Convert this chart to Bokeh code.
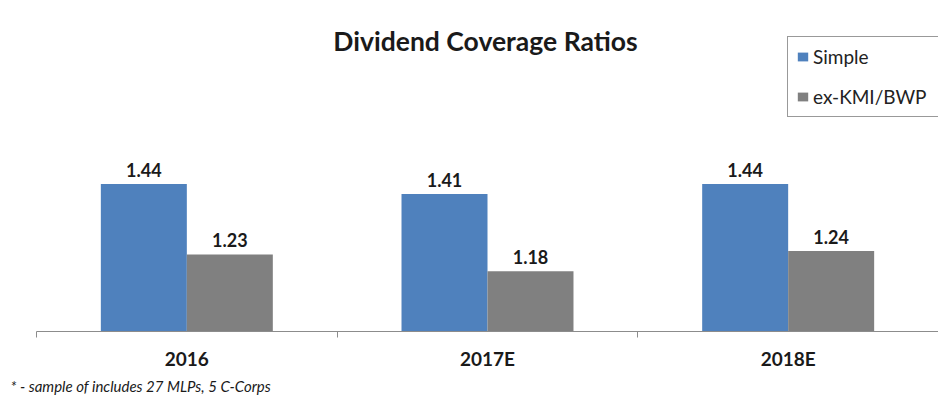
from bokeh.plotting import figure
from bokeh.models import (ColumnDataSource, FixedTicker, CustomJSTickFormatter,
                          Label, Range1d, Title)
from bokeh.core.properties import value
from bokeh.transform import dodge
from bokeh.embed import file_html
from bokeh.resources import INLINE

# ---- data ----
years = ["2016", "2017E", "2018E"]
simple = [1.44, 1.41, 1.44]
ex_kmi = [1.23, 1.18, 1.24]
series_names = ["Simple", "ex-KMI/BWP"]
title_text = "Dividend Coverage Ratios"
footnote = "* - sample of includes 27 MLPs, 5 C-Corps"

BLUE = "#4F81BD"
GRAY = "#808080"
FONT = "Lato"

src = ColumnDataSource(dict(
    x=[i + 0.5 for i in range(len(years))],
    simple=simple,
    ex=ex_kmi,
    simple_lbl=[f"{v:.2f}" for v in simple],
    ex_lbl=[f"{v:.2f}" for v in ex_kmi],
))

p = figure(width=938, height=398, output_backend="svg", toolbar_location=None,
           x_range=Range1d(0, 3), y_range=Range1d(1.0, 1.928),
           min_border_left=36, min_border_right=0, min_border_top=20,
           min_border_bottom=67)
p.outline_line_color = None
p.background_fill_color = "white"
p.border_fill_color = "white"
p.xgrid.visible = False
p.ygrid.visible = False
p.yaxis.visible = False

bw = 0.286
off = 0.143
p.vbar(x=dodge("x", -off, range=p.x_range), top="simple", bottom=1.0, width=bw,
       source=src, fill_color=BLUE, line_color=None, legend_label=series_names[0])
p.vbar(x=dodge("x", off, range=p.x_range), top="ex", bottom=1.0, width=bw,
       source=src, fill_color=GRAY, line_color=None, legend_label=series_names[1])

for col, lbl, d in (("simple", "simple_lbl", -off), ("ex", "ex_lbl", off)):
    p.text(x=dodge("x", d, range=p.x_range), y=col, text=lbl, source=src,
           text_align="center", text_baseline="alphabetic", y_offset=-14,
           text_font=value(FONT), text_font_style="bold", text_font_size="18px",
           text_color="#1a1a1a")

ax = p.xaxis[0]
ax.ticker = FixedTicker(ticks=[i + 0.5 for i in range(len(years))],
                        minor_ticks=list(range(len(years) + 1)))
ax.formatter = CustomJSTickFormatter(args=dict(labels=years),
                                     code="return labels[Math.floor(tick)] || '';")
ax.axis_line_color = "#8c8c8c"
ax.major_tick_line_color = None
ax.major_tick_out = 0
ax.major_tick_in = 0
ax.minor_tick_line_color = "#8c8c8c"
ax.minor_tick_out = 6
ax.minor_tick_in = 0
ax.major_label_text_font = FONT
ax.major_label_text_font_style = "bold"
ax.major_label_text_font_size = "19px"
ax.major_label_text_color = "#1a1a1a"
ax.major_label_standoff = 9

# title and footnote
p.add_layout(Label(x=449, y=291, x_units="screen", y_units="screen", text=title_text,
                   text_align="center", text_baseline="middle", text_font=FONT,
                   text_font_style="bold", text_font_size="26.5px", text_color="#1a1a1a"))
p.add_layout(Title(text=footnote, align="left", offset=-26, standoff=5,
                   text_font=FONT, text_font_style="italic", text_font_size="15px",
                   text_color="#1a1a1a"), "below")

lg = p.legend[0]
lg.location = (751, 214)
lg.orientation = "vertical"
lg.border_line_color = "#333333"
lg.border_line_width = 1
lg.background_fill_color = "white"
lg.background_fill_alpha = 1
lg.padding = 8
lg.margin = 0
lg.spacing = 17
lg.label_height = 20
lg.label_width = 170
lg.glyph_width = 13
lg.glyph_height = 11
lg.label_standoff = 4
lg.label_text_font = FONT
lg.label_text_font_size = "19px"
lg.label_text_color = "#222222"

open("out.html", "w").write(file_html(p, INLINE))
